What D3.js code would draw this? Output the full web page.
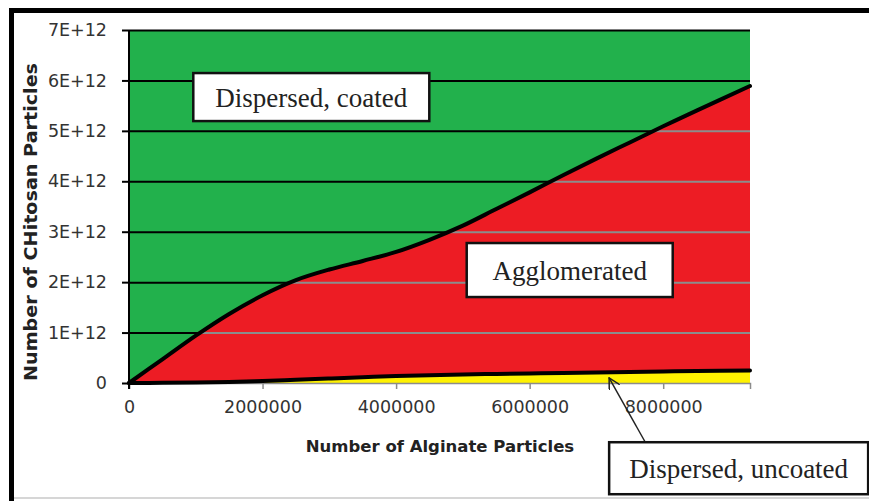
<!DOCTYPE html>
<html>
<head>
<meta charset="utf-8">
<script src="https://cdn.jsdelivr.net/npm/d3@7"></script>
<style>
  body { margin: 0; background: #fff; }
  svg { display: block; }
</style>
</head>
<body>
<div id="wrapper"></div>
<script>
// alginate particle counts (x) and the two boundary curves (chitosan particles)
const alginate = [0, 0.5e6, 1.0e6, 1.5e6, 2.0e6, 2.5e6, 3.0e6, 3.5e6, 4.0e6, 4.5e6,
  5.0e6, 5.5e6, 6.0e6, 6.5e6, 7.0e6, 7.5e6, 8.0e6, 8.5e6, 9.3e6]
const upperBound = [0, 0.47e12, 0.94e12, 1.37e12, 1.74e12, 2.04e12, 2.25e12, 2.42e12, 2.6e12, 2.84e12,
  3.12e12, 3.45e12, 3.78e12, 4.12e12, 4.45e12, 4.77e12, 5.09e12, 5.4e12, 5.89e12]
const lowerBound = [0, 0.004e12, 0.01e12, 0.02e12, 0.04e12, 0.065e12, 0.09e12, 0.115e12, 0.14e12, 0.155e12,
  0.17e12, 0.18e12, 0.19e12, 0.2e12, 0.21e12, 0.22e12, 0.23e12, 0.24e12, 0.25e12]

const xTicks = [0, 2000000, 4000000, 6000000, 8000000]
const yTicks = [0, 1e12, 2e12, 3e12, 4e12, 5e12, 6e12, 7e12]
const yTickLabels = ["0", "1E+12", "2E+12", "3E+12", "4E+12", "5E+12", "6E+12", "7E+12"]

const regionLabels = [
  { text: "Dispersed, coated", x: 2.73e6, y: 5.67e12, w: 236, h: 48 },
  { text: "Agglomerated", x: 6.6e6, y: 2.24e12, w: 206, h: 54 },
  { text: "Dispersed, uncoated", x: 9.13e6, y: -1.69e12, w: 259, h: 52 },
]
const arrowFrom = { x: 7.73e6, y: -1.17e12 }
const arrowTo = { x: 7.19e6, y: 0.1e12 }

const data = alginate.map((a, i) => ({ a, hi: upperBound[i], lo: lowerBound[i] }))

const dims = {
  width: 869,
  height: 501,
  margin: { top: 30, right: 119, bottom: 118, left: 129 },
}
dims.boundedWidth = dims.width - dims.margin.left - dims.margin.right
dims.boundedHeight = dims.height - dims.margin.top - dims.margin.bottom

const svg = d3.select("#wrapper")
  .append("svg")
  .attr("width", dims.width)
  .attr("height", dims.height)

// outer frame
svg.append("rect")
  .attr("x", 11.5).attr("y", 10.5)
  .attr("width", 1000).attr("height", 1000)
  .attr("fill", "none")
  .attr("stroke", "#000")
  .attr("stroke-width", 5)
svg.append("line")
  .attr("x1", 14).attr("x2", 869)
  .attr("y1", 498).attr("y2", 498)
  .attr("stroke", "#c8c8c8")
  .attr("stroke-width", 1.5)

const bounds = svg.append("g")
  .attr("transform", `translate(${dims.margin.left},${dims.margin.top})`)

const xScale = d3.scaleLinear()
  .domain([0, 9.3e6])
  .range([0, dims.boundedWidth])

const yScale = d3.scaleLinear()
  .domain([0, 7e12])
  .range([dims.boundedHeight, 0])

const curve = d3.curveCatmullRom.alpha(0.5)

// green background = dispersed, coated
bounds.append("rect")
  .attr("width", dims.boundedWidth)
  .attr("height", dims.boundedHeight)
  .attr("fill", "#22b14c")

// black gridlines
const gridGen = d3.axisLeft(yScale)
  .tickValues(yTicks.slice(1))
  .tickSize(-dims.boundedWidth)
  .tickFormat("")
const gridBlack = bounds.append("g").call(gridGen)
gridBlack.select(".domain").remove()
gridBlack.selectAll("line").attr("stroke", "#000").attr("stroke-width", 2)

// red area = agglomerated
const redArea = d3.area()
  .x(d => xScale(d.a))
  .y0(d => yScale(d.lo))
  .y1(d => yScale(d.hi))
  .curve(curve)

bounds.append("clipPath")
  .attr("id", "redclip")
  .append("path")
  .attr("d", redArea(data))

bounds.append("path")
  .attr("d", redArea(data))
  .attr("fill", "#ed1c24")

const gridGray = bounds.append("g")
  .attr("clip-path", "url(#redclip)")
  .call(gridGen)
gridGray.select(".domain").remove()
gridGray.selectAll("line").attr("stroke", "#8c8c8c").attr("stroke-width", 2)

// yellow area = dispersed, uncoated
const yellowArea = d3.area()
  .x(d => xScale(d.a))
  .y0(yScale(0))
  .y1(d => yScale(d.lo))
  .curve(curve)

bounds.append("path")
  .attr("d", yellowArea(data))
  .attr("fill", "#fff200")

// x axis
const xAxis = bounds.append("g")
  .attr("transform", `translate(0,${dims.boundedHeight})`)
  .call(d3.axisBottom(xScale).tickValues(xTicks).tickSize(6).tickPadding(12).tickFormat(d3.format("d")))
xAxis.select(".domain").attr("stroke", "#8c8c8c").attr("stroke-width", 1.5)
xAxis.selectAll(".tick line").attr("stroke", "#8c8c8c").attr("stroke-width", 1.5)
xAxis.selectAll("text")
  .attr("fill", "#333")
  .style("font-family", "DejaVu Sans, sans-serif")
  .style("font-size", "17.5px")

// boundary lines
const lineGen = key => d3.line()
  .x(d => xScale(d.a))
  .y(d => yScale(d[key]))
  .curve(curve)

bounds.append("path")
  .attr("d", lineGen("lo")(data))
  .attr("fill", "none")
  .attr("stroke", "#000")
  .attr("stroke-width", 4)
  .attr("stroke-linecap", "round")

bounds.append("path")
  .attr("d", lineGen("hi")(data))
  .attr("fill", "none")
  .attr("stroke", "#000")
  .attr("stroke-width", 4)
  .attr("stroke-linecap", "round")

// y axis
const yAxis = bounds.append("g")
  .call(d3.axisLeft(yScale).tickValues(yTicks).tickSize(7).tickPadding(15)
    .tickFormat((d, i) => yTickLabels[i]))
yAxis.select(".domain")
  .attr("d", `M0,${yScale(7e12)}V${dims.boundedHeight + 6}`)
  .attr("stroke", "#000").attr("stroke-width", 2)
yAxis.selectAll(".tick line").attr("stroke", "#000").attr("stroke-width", 2)
yAxis.selectAll("text")
  .attr("fill", "#333")
  .style("font-family", "DejaVu Sans, sans-serif")
  .style("font-size", "17.5px")

// axis titles
svg.append("text")
  .attr("x", 440)
  .attr("y", 452)
  .attr("text-anchor", "middle")
  .style("font-family", "DejaVu Sans, sans-serif")
  .style("font-weight", "bold")
  .style("font-size", "16.5px")
  .attr("fill", "#222")
  .text("Number of Alginate Particles")

svg.append("text")
  .attr("transform", "translate(37,222) rotate(-90)")
  .attr("text-anchor", "middle")
  .style("font-family", "DejaVu Sans, sans-serif")
  .style("font-weight", "bold")
  .style("font-size", "17px")
  .attr("textLength", 318)
  .attr("lengthAdjust", "spacingAndGlyphs")
  .attr("fill", "#222")
  .text("Number of CHitosan Particles")

// arrow to the thin yellow region
svg.append("defs").append("marker")
  .attr("id", "arrowhead")
  .attr("viewBox", "0 0 12 12")
  .attr("refX", 11).attr("refY", 6)
  .attr("markerWidth", 12).attr("markerHeight", 12)
  .attr("markerUnits", "userSpaceOnUse")
  .attr("orient", "auto")
  .append("path")
  .attr("d", "M0,0L11,6L0,12")
  .attr("fill", "none")
  .attr("stroke", "#222")
  .attr("stroke-width", 1.5)

bounds.append("line")
  .attr("x1", xScale(arrowFrom.x)).attr("y1", yScale(arrowFrom.y))
  .attr("x2", xScale(arrowTo.x)).attr("y2", yScale(arrowTo.y))
  .attr("stroke", "#222")
  .attr("stroke-width", 1.5)
  .attr("marker-end", "url(#arrowhead)")

// region labels
const labelGroups = bounds.selectAll(".region-label")
  .data(regionLabels)
  .join("g")
  .attr("class", "region-label")
  .attr("transform", d => `translate(${xScale(d.x)},${yScale(d.y)})`)

labelGroups.append("rect")
  .attr("x", d => -d.w / 2)
  .attr("y", d => -d.h / 2)
  .attr("width", d => d.w)
  .attr("height", d => d.h)
  .attr("fill", "#fff")
  .attr("stroke", "#111")
  .attr("stroke-width", 2.5)

labelGroups.append("text")
  .attr("y", 9.5)
  .attr("text-anchor", "middle")
  .style("font-family", "Liberation Serif, Times New Roman, serif")
  .style("font-size", "27px")
  .attr("fill", "#222")
  .text(d => d.text)
</script>
</body>
</html>
